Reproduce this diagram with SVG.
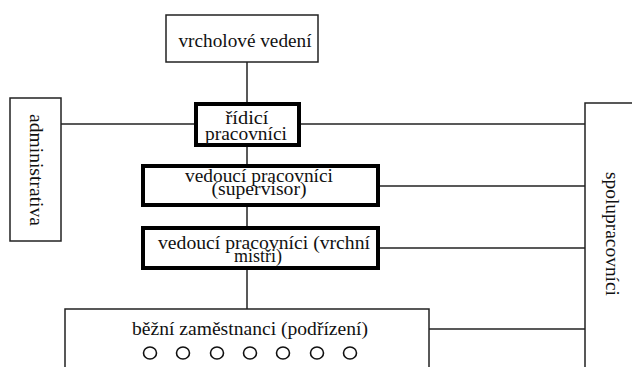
<svg xmlns="http://www.w3.org/2000/svg" width="632" height="367" viewBox="0 0 632 367">
<style>
.thin{fill:#fff;stroke:#222;stroke-width:1.5}
.thick{fill:#fff;stroke:#000;stroke-width:4}
.ln{stroke:#222;stroke-width:1.5;fill:none}
text{font-family:'Liberation Serif','Times New Roman',serif;font-size:18px;fill:#111;text-anchor:middle}
.c{fill:none;stroke:#111;stroke-width:1.6}
</style>
<rect width="632" height="367" fill="#fff"/>
<g id="connectors">
<line class="ln" x1="247" y1="62" x2="247" y2="309"/>
<line class="ln" x1="61" y1="124" x2="195" y2="124"/>
<line class="ln" x1="300" y1="124" x2="585" y2="124"/>
<line class="ln" x1="378" y1="186" x2="585" y2="186"/>
<line class="ln" x1="378" y1="248" x2="585" y2="248"/>
<line class="ln" x1="429" y1="329" x2="585" y2="329"/>
</g>
<g id="vrcholove">
<rect class="thin" x="166" y="15" width="152" height="47"/>
<text x="245" y="47" textLength="133" lengthAdjust="spacingAndGlyphs">vrcholové vedení</text>
</g>
<g id="ridici">
<rect class="thick" x="196" y="104" width="103" height="41"/>
<text x="247" y="124" textLength="43" lengthAdjust="spacingAndGlyphs">řídicí</text>
<text x="246" y="140" textLength="82" lengthAdjust="spacingAndGlyphs">pracovníci</text>
</g>
<g id="supervisor">
<rect class="thick" x="143" y="166" width="235" height="39"/>
<text x="259" y="182" textLength="148" lengthAdjust="spacingAndGlyphs">vedoucí pracovníci</text>
<text x="259" y="195" textLength="95" lengthAdjust="spacingAndGlyphs">(supervisor)</text>
</g>
<g id="mistri">
<rect class="thick" x="143" y="228" width="235" height="40"/>
<text x="264" y="249" textLength="212" lengthAdjust="spacingAndGlyphs">vedoucí pracovníci (vrchní</text>
<text x="258" y="262">mistři)</text>
</g>
<g id="bezni">
<rect class="thin" x="65" y="309" width="364" height="70"/>
<text x="250" y="335" textLength="236" lengthAdjust="spacingAndGlyphs">běžní zaměstnanci (podřízení)</text>
<ellipse class="c" cx="150" cy="353" rx="6.5" ry="6"/>
<ellipse class="c" cx="183" cy="353" rx="6.5" ry="6"/>
<ellipse class="c" cx="217" cy="353" rx="6.5" ry="6"/>
<ellipse class="c" cx="250" cy="353" rx="6.5" ry="6"/>
<ellipse class="c" cx="283" cy="353" rx="6.5" ry="6"/>
<ellipse class="c" cx="317" cy="353" rx="6.5" ry="6"/>
<ellipse class="c" cx="350" cy="353" rx="6.5" ry="6"/>
</g>
<g id="administrativa">
<rect class="thin" x="10" y="98" width="51" height="143"/>
<text transform="translate(30 170) rotate(90)" textLength="112" lengthAdjust="spacingAndGlyphs">administrativa</text>
</g>
<g id="spolupracovnici">
<rect class="thin" x="585" y="103" width="60" height="280"/>
<text transform="translate(606 234) rotate(90)" textLength="124" lengthAdjust="spacingAndGlyphs">spolupracovníci</text>
</g>
</svg>
